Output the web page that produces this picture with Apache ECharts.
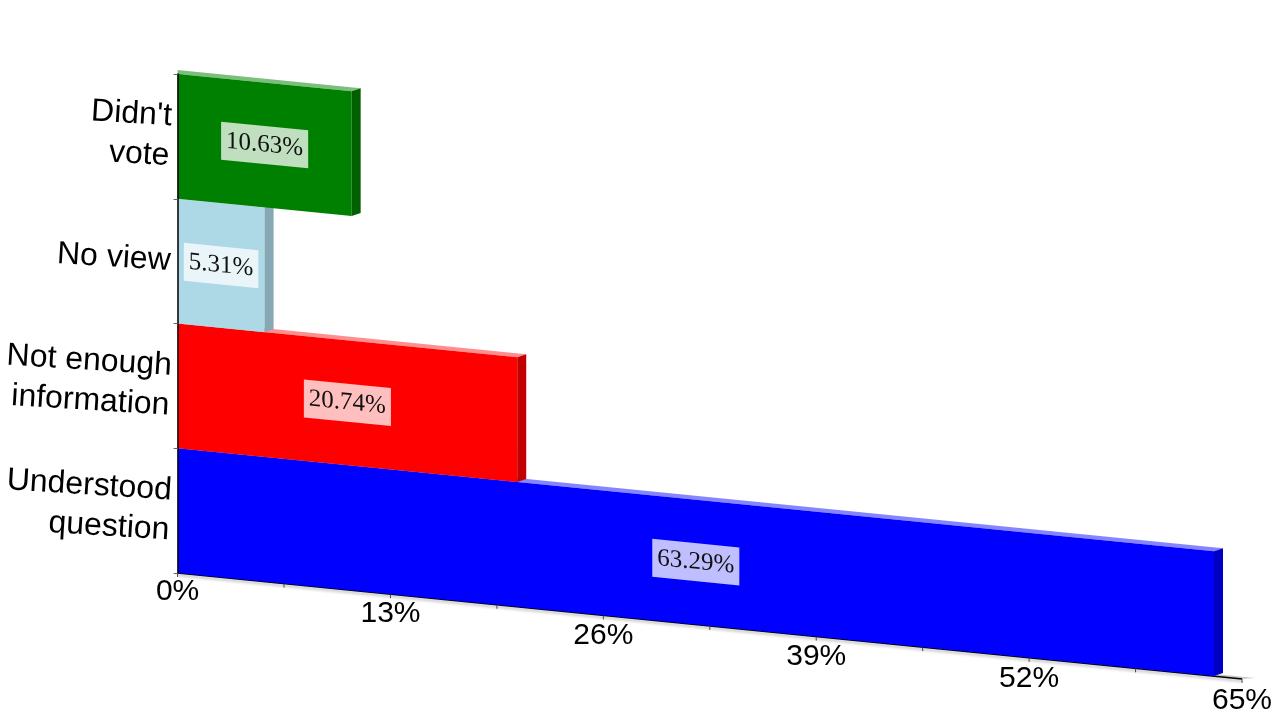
<!DOCTYPE html>
<html>
<head>
<meta charset="utf-8">
<script src="https://cdn.jsdelivr.net/npm/echarts@6/dist/echarts.min.js"></script>
<style>html,body{margin:0;padding:0;background:#fff}#chart{width:1280px;height:720px}</style>
</head>
<body>
<div id="chart"></div>
<script>
// ---- data ----
const categories = ['Understood\nquestion', 'Not enough\ninformation', 'No view', "Didn't\nvote"];
const values = [63.29, 20.74, 5.31, 10.63];
const valueLabels = ['63.29%', '20.74%', '5.31%', '10.63%'];
const tickValues = [0, 6.5, 13, 19.5, 26, 32.5, 39, 45.5, 52, 58.5, 65];
const tickLabels = ['0%', '', '13%', '', '26%', '', '39%', '', '52%', '', '65%'];

// ---- styles ----
const frontColors = ['#0000ff', '#ff0000', '#add8e6', '#008000'];
const topColors = ['#8585ff', '#ff8f8f', '#bcd3db', '#7cbf7c'];
const sideColors = ['#0000c2', '#c20000', '#86a8b4', '#006000'];
const K = 0.0995;         // perspective slant of the floor
const LK = 0.102;         // slant of the tick labels
const DX = 9, DY = -3;    // depth offset of the 3D faces

const chart = echarts.init(document.getElementById('chart'), null, {renderer: 'canvas'});

function barItem(params, api) {
  const cat = api.value(0);
  const val = api.value(1);
  const p0 = api.coord([0, cat]);
  const p1 = api.coord([val, cat]);
  const h = api.size([0, 1])[1];
  const x0 = p0[0], x1 = p1[0];
  const yt = p0[1] - h / 2, yb = p0[1] + h / 2;
  const S = (x, y) => [x, y + K * (x - x0)];
  const off = (p) => [p[0] + DX, p[1] + DY];
  const fTL = S(x0, yt), fTR = S(x1, yt), fBR = S(x1, yb), fBL = S(x0, yb);
  const i = params.dataIndex;
  const xm = (x0 + x1) / 2;
  const lm = S(xm, p0[1]);
  return {
    type: 'group',
    children: [
      {type: 'polygon', z2: i * 10 + 1, shape: {points: [fTL, fTR, off(fTR), [fTL[0], fTL[1] + DY - 1]]},
        style: {fill: topColors[i]}},
      {type: 'polygon', z2: i * 10 + 2, shape: {points: [fTL, fTR, fBR, fBL]},
        style: {fill: frontColors[i]}},
      {type: 'polygon', z2: i * 10 + 3, shape: {points: [fTR, off(fTR), off(fBR), fBR]},
        style: {fill: sideColors[i]}},
      {type: 'text', z2: i * 10 + 4, x: lm[0], y: lm[1], skewY: -Math.atan(K),
        style: {text: valueLabels[i], font: '25px "Liberation Serif", serif', fill: '#111',
          align: 'center', verticalAlign: 'middle',
          backgroundColor: 'rgba(255,255,255,0.75)', padding: [7, 5, 6, 5]}}
    ]
  };
}

function axisItem(params, api) {
  const v = api.value(0);
  const i = params.dataIndex;
  const o = api.coord([0, 0]);
  const h = api.size([0, 1])[1];
  const x0 = o[0], y0 = o[1] + h / 2;
  const p = api.coord([v, 0]);
  const x = p[0];
  const y = y0 + K * (x - x0);
  const children = [];
  if (i === 0) {
    const end = api.coord([tickValues[tickValues.length - 1], 0])[0];
    const ye = y0 + K * (end - x0);
    children.push({type: 'polygon', z2: -2,
      shape: {points: [[x0, y0], [end, ye], [end + 13, ye - 1], [x0 + 13, y0 - 1]]},
      style: {fill: '#c8c8c8'}});
    children.push({type: 'line', z2: 50, shape: {x1: x0, y1: y0, x2: end, y2: ye},
      style: {stroke: '#000', lineWidth: 1.5, shadowBlur: 3, shadowColor: 'rgba(0,0,0,0.35)', shadowOffsetY: 2}});
    children.push({type: 'line', z2: 50, shape: {x1: x0, y1: y0 - h * 4 + 1, x2: x0 + DX, y2: y0 - h * 4 + 1 + DY},
      style: {stroke: '#b0b0b0', lineWidth: 2.5}});
  }
  children.push({type: 'line', z2: 50, shape: {x1: x, y1: y, x2: x, y2: y + 4},
    style: {stroke: '#444', lineWidth: 1}});
  if (tickLabels[i]) {
    children.push({type: 'text', z2: 50, x: x, y: y0 + 19 + LK * (x - x0),
      style: {text: tickLabels[i], font: '30px "Liberation Sans", Arial, sans-serif', fill: '#000',
        align: 'center', verticalAlign: 'middle'}});
  }
  return {type: 'group', children: children};
}

chart.setOption({
  animation: false,
  backgroundColor: '#ffffff',
  grid: {left: 176, right: 38, top: 74, bottom: 147, containLabel: false},
  xAxis: {type: 'value', min: 0, max: 65, interval: 13, show: false},
  yAxis: {
    type: 'category', data: categories,
    axisLine: {show: true, lineStyle: {color: '#000', width: 1.5}},
    axisTick: {show: true, length: 4, lineStyle: {color: '#666'}},
    axisLabel: {color: '#000', fontSize: 32, lineHeight: 40, margin: 7, rotate: -3.5,
      fontFamily: '"Liberation Sans", Arial, sans-serif'},
    z: 10
  },
  series: [
    {type: 'custom', renderItem: axisItem, data: tickValues.map(v => [v]), encode: {x: 0}, z: 1, clip: false},
    {type: 'custom', renderItem: barItem,
      data: values.map((v, i) => [i, v]), encode: {y: 0, x: 1}, z: 2, clip: false}
  ]
});
</script>
</body>
</html>
